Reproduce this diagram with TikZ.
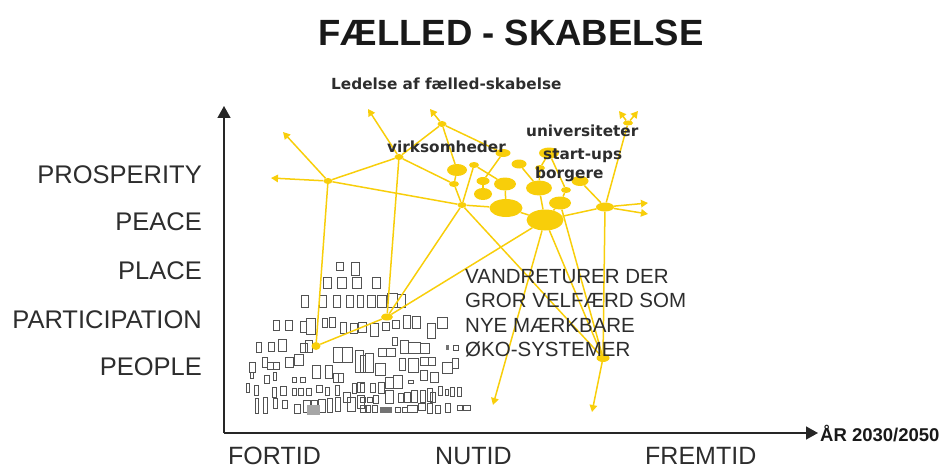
\documentclass[tikz,border=0pt]{standalone}
\usepackage{fontspec}
\setmainfont{Liberation Sans}
\newfontfamily\hum{DejaVu Sans}
\usetikzlibrary{arrows.meta,shapes.geometric}
\definecolor{gold}{RGB}{248,206,10}
\definecolor{ink}{RGB}{45,45,45}
\begin{document}
\begin{tikzpicture}[x=1pt,y=-1pt,
  blob/.style={ellipse,fill=gold,inner sep=0pt},
  link/.style={draw=gold,line width=1.5pt},
  arr/.style={link,-{Triangle[length=7pt,width=7.5pt]}},
  axis/.style={draw=black!85,line width=1.5pt,-{Triangle[length=12pt,width=13pt]}},
  ylab/.style={anchor=base east,inner sep=0pt,text=ink,font=\fontsize{25.5}{30}\selectfont},
  xlab/.style={anchor=base west,inner sep=0pt,text=ink,font=\fontsize{25}{30}\selectfont},
  vlab/.style={anchor=base west,inner sep=0pt,text=ink,font=\fontsize{20.5}{24}\selectfont},
  hlab/.style={anchor=base west,inner sep=0pt,text=ink,font=\hum\bfseries\fontsize{15.3}{17}\selectfont},
  boxy/.style={draw=black!68,line width=1pt}]
\useasboundingbox (0,0) rectangle (942,468);

% ---- small rectangles (people / past) ----
\foreach \x/\y/\w/\h in {
 336/262/7/8, 351/262/8/13,
 323/277/8/11, 337/277/9/11, 352/277/9/11, 372/277/8/11,
 301/295/7/12, 319/295/7/12, 333/295/7/12, 346/295/7/12, 357/295/6/12, 367/295/8/12, 377/295/9/12, 387/293/10/14, 397/294/8/13,
 273/320/6/10, 285/320/7/10, 300/321/6/11, 306/318/9/16, 322/318/5/9, 329/317/6/10, 340/322/6/11, 350/323/7/10, 358/322/8/10, 370/323/8/13, 382/322/7/8, 392/320/7/8, 403/315/7/13, 412/316/8/12, 427/323/8/15, 437/317/10/11,
 256/342/5/10, 268/342/6/9, 278/339/8/12, 300/343/7/9, 305/340/7/12, 333/347/9/15, 342/347/10/15, 355/350/8/22,
 392/337/5/8, 400/340/8/13, 408/342/12/11, 420/343/9/10, 378/348/8/8, 386/348/9/8, 453/345/5/5,
 249/362/6/10, 262/357/5/10, 267/362/6/7, 273/362/6/7, 285/357/8/10, 294/354/9/11, 312/365/8/13, 325/365/7/13, 333/373/5/9, 338/373/5/9,
 360/355/5/17, 365/353/8/19, 375/363/10/12, 399/358/6/12, 408/358/10/14, 420/357/8/8, 428/357/7/8, 442/362/10/11, 452/358/6/10,
 250/372/3/6, 246/383/3/9, 254/385/4/10, 264/375/5/8, 273/372/3/8, 272/387/4/10, 280/386/6/9, 292/377/4/5, 300/377/5/5, 292/388/4/7, 298/388/5/7, 306/388/5/7, 316/385/6/7, 325/387/4/8, 335/385/4/10, 352/383/4/10, 357/382/7/10,
 385/377/8/11, 393/375/9/13, 420/370/7/10, 430/372/8/10, 408/380/5/3, 360/383/4/9, 370/383/5/9, 378/382/6/11, 438/386/4/9, 445/389/3/6, 450/387/4/9, 457/387/4/9,
 255/398/3/15, 263/397/4/16, 273/398/4/10, 282/400/5/8, 294/404/6/9, 303/400/8/12, 310/400/7/13, 318/399/7/13, 327/398/5/14, 335/397/5/14, 343/392/7/10, 347/397/8/14, 357/395/7/13,
 385/390/8/13, 398/393/5/9, 404/392/6/10, 411/390/6/12, 420/390/5/12, 427/388/5/13, 430/392/5/10, 360/397/5/5, 367/397/5/5, 373/395/5/8, 360/405/5/7, 366/405/4/7, 372/405/5/7, 395/407/5/5, 402/407/5/5, 407/405/10/7, 418/403/7/7, 427/403/5/10, 435/405/5/8, 445/403/5/9, 457/405/5/5, 463/405/7/5}
 \draw[boxy] (\x,\y) rectangle ++(\w,\h);
\fill[black!55] (446,345) rectangle ++(3,5);
\fill[black!35] (307,405) rectangle ++(13,10);
\fill[black!55] (380,407) rectangle ++(12,6);

% ---- axes ----
\coordinate (O) at (224,433);
\coordinate (Ytop) at (224,106);
\coordinate (Xend) at (818,433);
\draw[axis] (O) -- (Ytop);
\draw[axis] (O) -- (Xend);

% ---- yellow network nodes ----
\node[blob,minimum width=9pt,minimum height=6pt] (A) at (328,181) {};
\node[blob,minimum width=9pt,minimum height=6pt] (B) at (399,157) {};
\node[blob,minimum width=9pt,minimum height=6pt] (C) at (442,124) {};
\node[blob,minimum width=9pt,minimum height=6pt] (D) at (462,205) {};
\node[blob,minimum width=20pt,minimum height=12pt] (H) at (457,170) {};
\node[blob,minimum width=10pt,minimum height=6pt] (I) at (454,184) {};
\node[blob,minimum width=10pt,minimum height=6pt] (J) at (474,165) {};
\node[blob,minimum width=13pt,minimum height=8pt] (K) at (483,181) {};
\node[blob,minimum width=22pt,minimum height=13pt] (L) at (505,184) {};
\node[blob,minimum width=18pt,minimum height=12pt] (M) at (483,194) {};
\node[blob,minimum width=15pt,minimum height=8pt] (Ob) at (503,153) {};
\node[blob,minimum width=33pt,minimum height=18pt] (F) at (506,208) {};
\node[blob,minimum width=15pt,minimum height=9pt] (N) at (519,164) {};
\node[blob,minimum width=20pt,minimum height=11pt] (S) at (549,153) {};
\node[blob,minimum width=10pt,minimum height=6pt] (V) at (540,168) {};
\node[blob,minimum width=26pt,minimum height=15pt] (P) at (539,188) {};
\node[blob,minimum width=17pt,minimum height=10pt] (T) at (580,181) {};
\node[blob,minimum width=10pt,minimum height=6pt] (R) at (566,190) {};
\node[blob,minimum width=22pt,minimum height=13pt] (Q) at (560,203) {};
\node[blob,minimum width=37pt,minimum height=21pt] (E) at (545,220) {};
\node[blob,minimum width=18pt,minimum height=9pt] (G) at (605,207) {};
\node[blob,minimum width=10pt,minimum height=5pt] (U) at (628,123) {};
\node[blob,minimum width=13pt,minimum height=8pt] (W) at (603,358) {};
\node[blob,minimum width=9pt,minimum height=8pt] (P1) at (316,346) {};
\node[blob,minimum width=12pt,minimum height=7pt] (P2) at (387,317) {};

\coordinate (aL) at (271,178);
\coordinate (aUL) at (283,132);
\coordinate (aB) at (368,109);
\coordinate (aC) at (430,109);
\coordinate (aU1) at (619,111);
\coordinate (aU2) at (638,111);
\coordinate (aG1) at (648,203);
\coordinate (aG2) at (648,214);
\coordinate (aD1) at (493,405);
\coordinate (aD2) at (592,412);

% ---- yellow links ----
\draw[link] (A) -- (B);
\draw[link] (A) -- (D);
\draw[link] (A) -- (P1);
\draw[arr] (A) -- (aL);
\draw[arr] (A) -- (aUL);
\draw[link] (B) -- (C);
\draw[link] (B) -- (I);
\draw[link] (B) -- (P2);
\draw[arr] (B) -- (aB);
\draw[arr] (C) -- (aC);
\draw[link] (C) -- (Ob);
\draw[link] (C) -- (H);
\draw[link] (H) -- (I);
\draw[link] (I) -- (D);
\draw[link] (J) -- (D);
\draw[link] (J) -- (L);
\draw[link] (Ob) -- (K);
\draw[link] (K) -- (M);
\draw[link] (L) -- (F);
\draw[link] (D) -- (F);
\draw[link] (F) -- (E);
\draw[link] (N) -- (P);
\draw[link] (S) -- (V);
\draw[link] (V) -- (P);
\draw[link] (S) -- (R);
\draw[link] (R) -- (Q);
\draw[link] (Q) -- (E);
\draw[link] (P) -- (E);
\draw[link] (E) -- (G);
\draw[link] (G) -- (T);
\draw[link] (G) -- (U);
\draw[arr] (U) -- (aU1);
\draw[arr] (U) -- (aU2);
\draw[arr] (G) -- (aG1);
\draw[arr] (G) -- (aG2);
\draw[link] (D) -- (P2);
\draw[link] (P1) -- (P2);
\draw[link] (P2) -- (E);
\draw[arr] (E) -- (aD1);
\draw[link] (D) -- (W);
\draw[link] (E) -- (W);
\draw[link] (Q) -- (W);
\draw[link] (G) -- (W);
\draw[arr] (W) -- (aD2);

% ---- texts ----
\node[anchor=base,inner sep=0pt,text=black!90,font=\bfseries\fontsize{36.5}{40}\selectfont] (title) at (511,46) {FÆLLED - SKABELSE};
\node[ylab] (y1) at (202,183) {PROSPERITY};
\node[ylab] (y2) at (202,230) {PEACE};
\node[ylab] (y3) at (202,279) {PLACE};
\node[ylab] (y4) at (202,328) {PARTICIPATION};
\node[ylab] (y5) at (202,375) {PEOPLE};
\node[xlab] (x1) at (228,464) {FORTID};
\node[xlab] (x2) at (435,464) {NUTID};
\node[xlab] (x3) at (645,464) {FREMTID};
\node[anchor=base west,inner sep=0pt,text=black!90,font=\bfseries\fontsize{18.5}{20}\selectfont] (yr) at (820,441) {ÅR 2030/2050};
\node[vlab] (v1) at (465,283) {VANDRETURER DER};
\node[vlab] (v2) at (465,307.5) {GROR VELFÆRD SOM};
\node[vlab] (v3) at (465,332) {NYE MÆRKBARE};
\node[vlab] (v4) at (465,356) {ØKO-SYSTEMER};
\node[hlab] (h1) at (331,90) {Ledelse af fælled-skabelse};
\node[hlab] (h2) at (387,153) {virksomheder};
\node[hlab] (h3) at (526,137) {universiteter};
\node[hlab] (h4) at (543,159) {start-ups};
\node[hlab] (h5) at (535,178) {borgere};
\end{tikzpicture}
\end{document}
